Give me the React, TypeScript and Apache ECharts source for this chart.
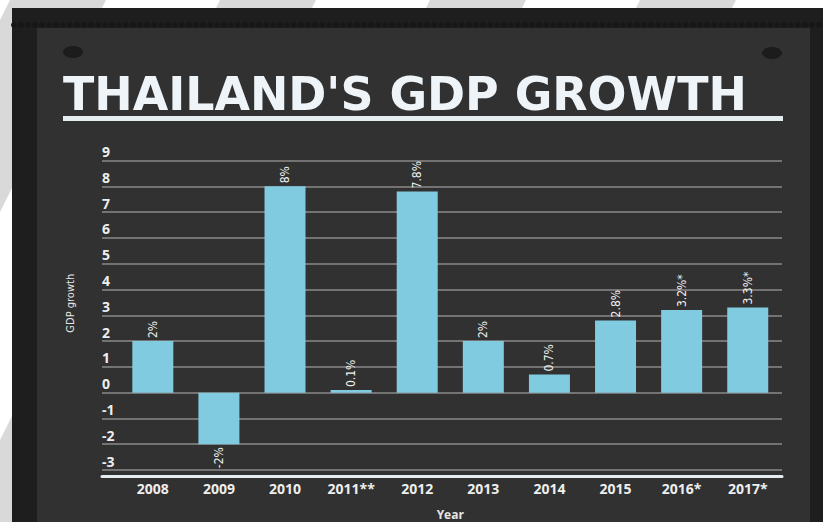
import React, { useEffect, useRef } from "react";
import * as echarts from "echarts";

const years = ["2008", "2009", "2010", "2011**", "2012", "2013", "2014", "2015", "2016*", "2017*"];
const growth = [2, -2, 8, 0.1, 7.8, 2, 0.7, 2.8, 3.2, 3.3];
const valueLabels = ["2%", "-2%", "8%", "0.1%", "7.8%", "2%", "0.7%", "2.8%", "3.2%*", "3.3%*"];
const yMin = -3;
const yMax = 9;
const yStep = 1;
const titleText = "THAILAND'S GDP GROWTH";
const yName = "GDP growth";
const xName = "Year";

const W = 823;
const H = 522;

function stripes() {
  const els: any[] = [];
  // diagonal light-grey stripes on the white page behind the board
  const period = 210;
  const band = 96;
  const slant = 0.5; // dx per dy
  for (let k = 0; k < 6; k++) {
    const x0 = 10 + k * period;
    els.push({
      type: "polygon",
      z: -20,
      shape: {
        points: [
          [x0, 0],
          [x0 + band, 0],
          [x0 + band - slant * 600, 600],
          [x0 - slant * 600, 600],
        ],
      },
      style: { fill: "#d9d9d9" },
      silent: true,
    });
  }
  return els;
}

export default function App() {
  const ref = useRef<HTMLDivElement>(null);
  useEffect(() => {
    document.body.style.margin = "0";
    const chart = echarts.init(ref.current!, null, { renderer: "svg" });
    const scallops: any[] = [];
    for (let x = 14; x < W; x += 7) {
      scallops.push({
        type: "circle",
        z: -14,
        shape: { cx: x, cy: 25, r: 3 },
        style: { fill: "#171717" },
        silent: true,
      });
    }
    const condensed = "'DejaVu Sans Condensed', 'DejaVu Sans', sans-serif";
    const option: any = {
      animation: false,
      backgroundColor: "#ffffff",
      graphic: [
        ...stripes(),
        { type: "rect", z: -15, shape: { x: 12, y: 8, width: W, height: H }, style: { fill: "#1e1e1e" }, silent: true },
        ...scallops,
        { type: "rect", z: -13, shape: { x: 37, y: 28, width: 773, height: H }, style: { fill: "#313131" }, silent: true },
        { type: "ellipse", z: -12, shape: { cx: 73, cy: 52, rx: 10, ry: 6 }, style: { fill: "#1c1c1c" }, silent: true },
        { type: "ellipse", z: -12, shape: { cx: 772, cy: 53, rx: 10, ry: 6 }, style: { fill: "#1c1c1c" }, silent: true },
        {
          type: "text",
          z: -11,
          x: 63,
          y: 94,
          scaleX: 1.085,
          style: {
            text: titleText,
            fill: "#eef4f8",
            font: "bold 47px 'DejaVu Sans Condensed', sans-serif",
            verticalAlign: "middle",
            align: "left",
          },
          silent: true,
        },
        { type: "rect", z: -11, shape: { x: 63, y: 116, width: 720, height: 5 }, style: { fill: "#e4ecf0" }, silent: true },
      ],
      grid: [
        { left: 102, right: W - 782, top: 160.5, bottom: H - 470, containLabel: false, outerBoundsMode: "none" },
        { left: 119.75, right: W - 780.8, top: 160.5, bottom: H - 470, containLabel: false, outerBoundsMode: "none" },
      ],
      xAxis: [
        {
          gridIndex: 0,
          type: "value",
          min: 0,
          max: 1,
          offset: 6,
          axisLine: { show: true, onZero: false, lineStyle: { color: "#e6edf0", width: 3 } },
          axisTick: { show: false },
          axisLabel: { show: false },
          splitLine: { show: false },
        },
        {
          gridIndex: 1,
          type: "category",
          data: years,
          axisLine: { show: false, onZero: false },
          axisTick: { show: false },
          axisLabel: {
            color: "#eeeeee",
            fontFamily: "'Open Sans', sans-serif",
            fontWeight: "bold",
            fontSize: 14,
            margin: 11,
          },
          name: xName,
          nameLocation: "middle",
          nameGap: 38,
          nameTextStyle: { color: "#e6e6e6", fontFamily: "'Open Sans', sans-serif", fontWeight: "bold", fontSize: 12 },
        },
      ],
      yAxis: [
        {
          gridIndex: 0,
          type: "value",
          min: yMin,
          max: yMax,
          interval: yStep,
          axisLine: { show: false },
          axisTick: { show: false },
          splitLine: { show: true, lineStyle: { color: "#8a8a8a", width: 1.5 } },
          axisLabel: {
            inside: true,
            margin: 0,
            align: "left",
            verticalAlign: "bottom",
            padding: [0, 0, 2, 0],
            color: "#eeeeee",
            fontFamily: "'Open Sans', sans-serif",
            fontWeight: "bold",
            fontSize: 14,
          },
          name: yName,
          nameLocation: "middle",
          nameGap: 26,
          nameTextStyle: {
            color: "#e6e6e6",
            fontFamily: condensed,
            fontSize: 11,
            padding: [0, 0, 0, 24],
          },
        },
        { gridIndex: 1, type: "value", min: yMin, max: yMax, interval: yStep, show: false, splitLine: { show: false } },
      ],
      series: [
        {
          type: "bar",
          xAxisIndex: 1,
          yAxisIndex: 1,
          barWidth: 41,
          itemStyle: { color: "#80cbe0" },
          data: growth.map((v) => ({
            value: v,
            label: {
              position: v < 0 ? "bottom" : "top",
              align: v < 0 ? "right" : "left",
            },
          })),
          label: {
            show: true,
            rotate: 90,
            verticalAlign: "middle",
            distance: 3,
            color: "#f0f0f0",
            fontFamily: condensed,
            fontSize: 12,
            formatter: (p: any) => valueLabels[p.dataIndex],
          },
        },
      ],
    };
    chart.setOption(option);
    return () => chart.dispose();
  }, []);
  return <div ref={ref} style={{ position: "fixed", left: 0, top: 0, width: W, height: H }} />;
}
